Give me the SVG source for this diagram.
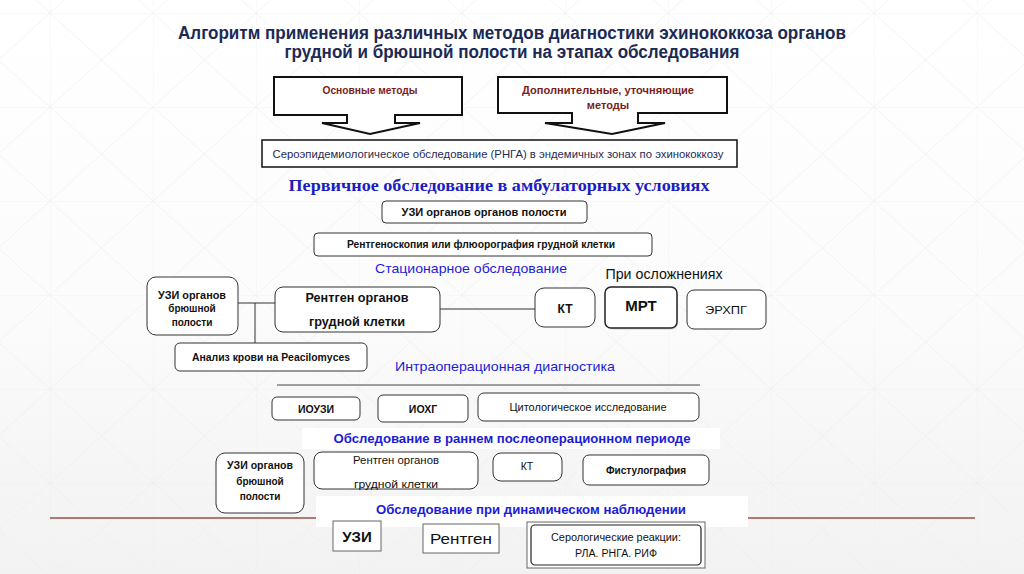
<svg xmlns="http://www.w3.org/2000/svg" width="1024" height="574" viewBox="0 0 1024 574">
<defs>
<linearGradient id="bg" x1="0" y1="0" x2="0" y2="1">
<stop offset="0" stop-color="#ffffff"/>
<stop offset="0.5" stop-color="#fcfcfc"/>
<stop offset="1" stop-color="#f2f2f2"/>
</linearGradient>
<pattern id="grid" x="50" y="13" width="103" height="94" patternUnits="userSpaceOnUse">
<path d="M0,0 H103 M0,0 V94 M0,0 L103,94 M103,0 L0,94" stroke="#ebebeb" stroke-width="0.8" fill="none"/>
</pattern>
</defs>
<style>
.box{fill:#ffffff;stroke:#333333;stroke-width:1}
.sq{fill:#ffffff;stroke:#666666;stroke-width:1}
.t{font-family:"Liberation Sans",Arial,sans-serif;fill:#111111;text-anchor:middle}
.b{font-weight:bold}
.blue{font-family:"Liberation Sans",Arial,sans-serif;fill:#1c1cd6;text-anchor:middle}
.conn{stroke:#333333;stroke-width:1;fill:none}
</style>
<rect width="1024" height="574" fill="url(#bg)"/>
<rect width="1024" height="574" fill="url(#grid)" opacity="0.7"/>
<line x1="50" y1="518" x2="975" y2="518" stroke="#b07a70" stroke-width="2"/>
<rect x="302" y="428" width="418" height="21" fill="#ffffff"/>
<rect x="316" y="496" width="432" height="31" fill="#ffffff"/>

<g id="title">
<text x="512" y="39" font-family="'Liberation Sans Narrow','Liberation Sans',Arial,sans-serif" font-weight="bold" font-size="17.5" fill="#1b2a55" text-anchor="middle" textLength="668" lengthAdjust="spacingAndGlyphs">Алгоритм применения различных методов диагностики эхинококкоза органов</text>
<text x="512" y="58" font-family="'Liberation Sans Narrow','Liberation Sans',Arial,sans-serif" font-weight="bold" font-size="17.5" fill="#1b2a55" text-anchor="middle" textLength="455" lengthAdjust="spacingAndGlyphs">грудной и брюшной полости на этапах обследования</text>
</g>

<g id="connectors">
<line class="conn" x1="238" y1="303" x2="275" y2="303"/>
<line class="conn" x1="255" y1="303" x2="255" y2="343"/>
<line class="conn" x1="440" y1="309" x2="535" y2="309"/>
<line x1="277" y1="385" x2="700" y2="385" stroke="#444444" stroke-width="1"/>
</g>

<g id="n-main">
<path d="M274,77 H462 V115 H395 V123 H420 L370,134 L322,123 H347 V115 H274 Z" fill="#ffffff" stroke="#111111" stroke-width="2" stroke-linejoin="miter"/>
<text class="t b" x="370" y="94" font-size="11" style="fill:#7a1c1c" textLength="95" lengthAdjust="spacingAndGlyphs">Основные методы</text>
</g>
<g id="n-extra">
<path d="M498,77 H727 V113 H638 V123 H665 L612,134 L545,123 H572 V113 H498 Z" fill="#ffffff" stroke="#111111" stroke-width="2"/>
<text class="t b" x="608" y="94" font-size="11" style="fill:#7a1c1c" textLength="172" lengthAdjust="spacingAndGlyphs">Дополнительные, уточняющие</text>
<text class="t b" x="608" y="109" font-size="11" style="fill:#7a1c1c">методы</text>
</g>
<g id="n-sero">
<rect x="262" y="140" width="475" height="27" fill="#ffffff" stroke="#111111" stroke-width="1.5"/>
<text class="t" x="498" y="158" font-size="11" style="fill:#1f2a55" textLength="451" lengthAdjust="spacingAndGlyphs">Сероэпидемиологическое обследование (РНГА) в эндемичных зонах по эхинококкозу</text>
</g>

<g id="h-primary">
<text x="499" y="191" font-family="'Liberation Serif','Times New Roman',serif" font-weight="bold" font-size="17" fill="#1c1cc0" text-anchor="middle" textLength="421" lengthAdjust="spacingAndGlyphs">Первичное обследование в амбулаторных условиях</text>
</g>
<g id="n-uzi1">
<rect class="box" x="382" y="201" width="205" height="22" rx="4"/>
<text class="t b" x="484" y="216" font-size="10" textLength="165" lengthAdjust="spacingAndGlyphs">УЗИ органов органов полости</text>
</g>
<g id="n-rentgenoskop">
<rect class="box" x="314" y="233" width="338" height="23" rx="4"/>
<text class="t b" x="481" y="248" font-size="10" textLength="268" lengthAdjust="spacingAndGlyphs">Рентгеноскопия или флюорография грудной клетки</text>
</g>

<g id="h-stac">
<text class="blue" x="471" y="273" font-size="13" textLength="192" lengthAdjust="spacingAndGlyphs">Стационарное обследование</text>
</g>
<g id="h-compl">
<text class="t" x="664" y="279" font-size="14" textLength="117" lengthAdjust="spacingAndGlyphs">При осложнениях</text>
</g>

<g id="n-uzi2">
<rect class="box" x="147" y="277" width="91" height="58" rx="9"/>
<text class="t b" x="192" y="299" font-size="10" textLength="68" lengthAdjust="spacingAndGlyphs">УЗИ органов</text>
<text class="t b" x="192" y="312" font-size="10">брюшной</text>
<text class="t b" x="192" y="326" font-size="10">полости</text>
</g>
<g id="n-rentgen1">
<rect class="box" x="275" y="287" width="165" height="45" rx="8"/>
<text class="t b" x="357" y="302" font-size="12" textLength="103" lengthAdjust="spacingAndGlyphs">Рентген органов</text>
<text class="t b" x="357" y="326" font-size="12" textLength="96" lengthAdjust="spacingAndGlyphs">грудной клетки</text>
</g>
<g id="n-blood">
<rect class="box" x="175" y="343" width="192" height="28" rx="5"/>
<text class="t b" x="271" y="361" font-size="10" textLength="158" lengthAdjust="spacingAndGlyphs">Анализ крови на Peacilomyces</text>
</g>
<g id="n-kt1">
<rect class="box" x="535" y="288" width="60" height="39" rx="9"/>
<text class="t b" x="565" y="313" font-size="12">КТ</text>
</g>
<g id="n-mrt">
<rect x="607" y="289" width="71" height="41" rx="6" fill="#d8d8d8" opacity="0.6"/>
<rect x="605" y="287" width="72" height="41" rx="6" fill="#ffffff" stroke="#222222" stroke-width="1.5"/>
<text class="t b" x="641" y="311" font-size="15">МРТ</text>
</g>
<g id="n-erhpg">
<rect class="box" x="687" y="290" width="79" height="39" rx="7"/>
<text class="t" x="726" y="314" font-size="11" textLength="42" lengthAdjust="spacingAndGlyphs">ЭРХПГ</text>
</g>

<g id="h-intra">
<text class="blue" x="505" y="371" font-size="13" textLength="220" lengthAdjust="spacingAndGlyphs">Интраоперационная диагностика</text>
</g>
<g id="n-iouzi">
<rect class="box" x="272" y="397" width="88" height="23" rx="5"/>
<text class="t b" x="316" y="413" font-size="10.5">ИОУЗИ</text>
</g>
<g id="n-iohg">
<rect class="box" x="378" y="395" width="90" height="27" rx="5"/>
<text class="t b" x="423" y="413" font-size="10.5">ИОХГ</text>
</g>
<g id="n-cyto">
<rect class="box" x="478" y="393" width="221" height="28" rx="6"/>
<text class="t" x="588" y="411" font-size="10.5" textLength="157" lengthAdjust="spacingAndGlyphs">Цитологическое исследование</text>
</g>

<g id="h-postop">
<text class="blue b" x="512" y="443" font-size="13" textLength="357" lengthAdjust="spacingAndGlyphs">Обследование в раннем послеоперационном периоде</text>
</g>
<g id="n-uzi3">
<rect class="box" x="216" y="453" width="88" height="60" rx="9"/>
<text class="t b" x="260" y="469" font-size="10" textLength="66" lengthAdjust="spacingAndGlyphs">УЗИ органов</text>
<text class="t b" x="260" y="485" font-size="10">брюшной</text>
<text class="t b" x="260" y="500" font-size="10">полости</text>
</g>
<g id="n-rentgen2">
<rect class="box" x="314" y="452" width="164" height="37" rx="8"/>
<text class="t" x="396" y="464" font-size="10" textLength="86" lengthAdjust="spacingAndGlyphs">Рентген органов</text>
<text class="t" x="396" y="488" font-size="10" textLength="84" lengthAdjust="spacingAndGlyphs">грудной клетки</text>
</g>
<g id="n-kt2">
<rect class="box" x="493" y="453" width="69" height="28" rx="8"/>
<text class="t" x="527" y="470" font-size="10.5">КТ</text>
</g>
<g id="n-fist">
<rect class="box" x="583" y="455" width="126" height="30" rx="6"/>
<text class="t b" x="646" y="474" font-size="10" textLength="80" lengthAdjust="spacingAndGlyphs">Фистулография</text>
</g>

<g id="h-dyn">
<text class="blue b" x="531" y="514" font-size="13" textLength="310" lengthAdjust="spacingAndGlyphs">Обследование при динамическом наблюдении</text>
</g>
<g id="n-uzi4">
<rect class="sq" x="333" y="521" width="48" height="30"/>
<text class="t b" x="357" y="542" font-size="15">УЗИ</text>
</g>
<g id="n-rentgen3">
<rect class="sq" x="423" y="524" width="76" height="29"/>
<text class="t" x="461" y="544" font-size="14.5" textLength="62" lengthAdjust="spacingAndGlyphs">Рентген</text>
</g>
<g id="n-serol">
<rect class="sq" x="527" y="522" width="178" height="46"/>
<rect x="531" y="525" width="170" height="40" rx="4" fill="#ffffff" stroke="#222222" stroke-width="1.2"/>
<text class="t" x="616" y="541" font-size="10" textLength="130" lengthAdjust="spacingAndGlyphs">Серологические реакции:</text>
<text class="t" x="616" y="557" font-size="10" textLength="82" lengthAdjust="spacingAndGlyphs">РЛА. РНГА. РИФ</text>
</g>
</svg>
